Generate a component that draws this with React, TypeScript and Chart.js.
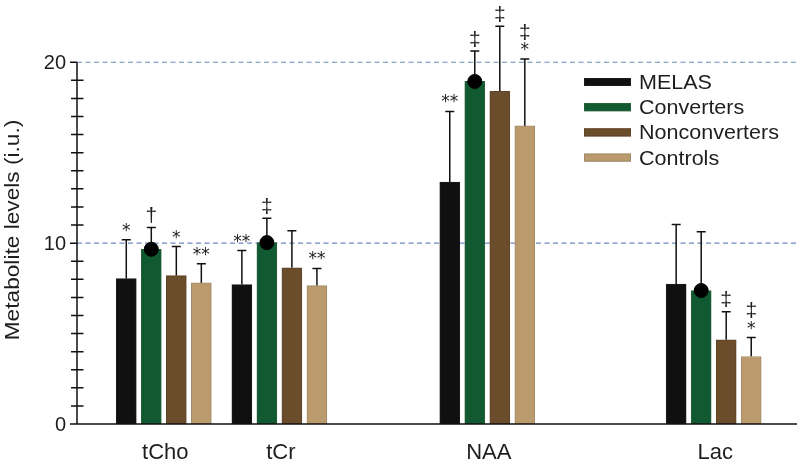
import React, { useEffect, useRef } from 'react';
import { Chart, registerables } from 'chart.js';

Chart.register(...registerables);

// ---------- data ----------
const categories = ['tCho', 'tCr', 'NAA', 'Lac'];
// positions of the category centres on the linear x axis (unit = one bar slot)
const categoryPositions = [3.47, 8.09, 16.4, 25.45];
const seriesNames = ['MELAS', 'Converters', 'Nonconverters', 'Controls'];

const melasValues = [8.04, 7.71, 13.37, 7.74];
const convertersValues = [9.66, 10.03, 18.94, 7.38];
const nonconvertersValues = [8.2, 8.64, 18.39, 4.66];
const controlsValues = [7.8, 7.65, 16.48, 3.73];

const melasSD = [2.14, 1.88, 3.91, 3.29];
const convertersSD = [1.21, 1.35, 1.68, 3.25];
const nonconvertersSD = [1.61, 2.04, 3.6, 1.55];
const controlsSD = [1.06, 0.95, 3.7, 1.05];

// significance marks, top line first
const melasMarks = [['*'], ['**'], ['**'], []];
const convertersMarks = [['†'], ['‡'], ['‡'], []];
const nonconvertersMarks = [['*'], [], ['‡'], ['‡']];
const controlsMarks = [['**'], ['**'], ['‡', '*'], ['‡', '*']];

const yMajorTicks = [0, 10, 20];
const referenceLines = [10, 20];
const yAxisTitle = 'Metabolite levels (i.u.)';

// ---------- styles ----------
const seriesColors = ['#101010', '#115a31', '#6c4d2b', '#bb9b6e'];
const seriesBorders = ['#1c1c1c', '#245f3a', '#5e4428', '#a08b6c'];
const FONT = '"Liberation Sans", Arial, Helvetica, sans-serif';
const TEXT = '#1e1e1e';

const allValues = [melasValues, convertersValues, nonconvertersValues, controlsValues];
const allSD = [melasSD, convertersSD, nonconvertersSD, controlsSD];
const allMarks = [melasMarks, convertersMarks, nonconvertersMarks, controlsMarks];

function drawText(
  ctx: CanvasRenderingContext2D,
  text: string,
  x: number,
  y: number,
  size: number,
  align: CanvasTextAlign,
  sx = 1,
  rotate = 0,
  color = TEXT,
  family = FONT
) {
  ctx.save();
  ctx.font = `${size}px ${family}`;
  ctx.fillStyle = color;
  ctx.textAlign = align;
  ctx.textBaseline = 'alphabetic';
  const m = ctx.measureText(text);
  const off = (m.actualBoundingBoxAscent - m.actualBoundingBoxDescent) / 2;
  ctx.translate(x, y);
  if (rotate) ctx.rotate(rotate);
  ctx.scale(sx, 1);
  ctx.fillText(text, 0, off);
  ctx.restore();
}

const overlayPlugin = {
  id: 'overlay',
  beforeDatasetsDraw(chart: any) {
    const { ctx, scales } = chart;
    const xs = scales.x;
    const ys = scales.y;
    // dashed reference lines
    ctx.save();
    ctx.strokeStyle = '#6f8bbf';
    ctx.lineWidth = 1.2;
    ctx.setLineDash([5, 3.5]);
    for (const v of referenceLines) {
      const py = ys.getPixelForValue(v);
      ctx.beginPath();
      ctx.moveTo(xs.left, py);
      ctx.lineTo(chart.width, py);
      ctx.stroke();
    }
    ctx.restore();
    // error bars
    ctx.save();
    ctx.strokeStyle = '#111';
    ctx.lineWidth = 1.5;
    for (let s = 0; s < seriesNames.length; s++) {
      const meta = chart.getDatasetMeta(s);
      meta.data.forEach((el: any, j: number) => {
        const top = ys.getPixelForValue(allValues[s][j] + allSD[s][j]);
        ctx.beginPath();
        ctx.moveTo(el.x, el.y);
        ctx.lineTo(el.x, top);
        ctx.moveTo(el.x - 4.5, top);
        ctx.lineTo(el.x + 4.5, top);
        ctx.stroke();
      });
    }
    ctx.restore();
  },
  afterDatasetsDraw(chart: any) {
    const { ctx, scales } = chart;
    const xs = scales.x;
    const ys = scales.y;
    // significance marks
    for (let s = 0; s < seriesNames.length; s++) {
      const meta = chart.getDatasetMeta(s);
      meta.data.forEach((el: any, j: number) => {
        const top = ys.getPixelForValue(allValues[s][j] + allSD[s][j]);
        const lines = allMarks[s][j];
        for (let k = 0; k < lines.length; k++) {
          const fromBottom = lines.length - 1 - k;
          const cy = top - 12.5 - fromBottom * 15;
          const t = lines[k];
          if (t.includes('*')) {
            drawText(ctx, t, el.x, cy, 17, 'center', 1, 0, TEXT, '"DejaVu Sans", sans-serif');
          } else {
            drawText(ctx, t, el.x, cy, 21, 'center');
          }
        }
      });
    }
    // axes
    const x0 = xs.left;
    const y0 = ys.getPixelForValue(0);
    const yTop = ys.getPixelForValue(20);
    ctx.save();
    ctx.strokeStyle = '#111';
    ctx.lineWidth = 1.5;
    ctx.beginPath();
    ctx.moveTo(x0, y0);
    ctx.lineTo(x0, yTop);
    ctx.moveTo(x0 - 7, y0);
    ctx.lineTo(chart.width, y0);
    for (let v = 0; v <= 20; v++) {
      const py = ys.getPixelForValue(v);
      if (yMajorTicks.includes(v)) {
        ctx.moveTo(x0 - 7, py);
        ctx.lineTo(x0, py);
      } else {
        ctx.moveTo(x0 - 6, py);
        ctx.lineTo(x0 + 6.5, py);
      }
    }
    ctx.stroke();
    ctx.restore();
    for (const v of yMajorTicks) {
      drawText(ctx, String(v), x0 - 11, ys.getPixelForValue(v), 20, 'right');
    }
    // category labels
    categories.forEach((c, i) => {
      drawText(ctx, c, xs.getPixelForValue(categoryPositions[i]) + 1.5, 451, 22, 'center');
    });
    // y title
    drawText(ctx, yAxisTitle, 13.5, 230, 21, 'center', 1.08, -Math.PI / 2);
    // legend
    ctx.save();
    seriesNames.forEach((name, i) => {
      const cy = 82 + i * 25.2;
      ctx.fillStyle = seriesColors[i];
      ctx.fillRect(584, cy - 4, 47, 8);
      ctx.strokeStyle = seriesBorders[i];
      ctx.lineWidth = 1;
      ctx.strokeRect(584.5, cy - 3.5, 46, 7);
      drawText(ctx, name, 639, cy, 20.5, 'left', 1.05);
    });
    ctx.restore();
  },
};

export default function App() {
  const canvasRef = useRef<HTMLCanvasElement | null>(null);

  useEffect(() => {
    document.body.style.margin = '0';
    const canvas = canvasRef.current;
    if (!canvas) return;
    const barDatasets = seriesNames.map((name, s) => ({
      type: 'bar' as const,
      label: name,
      data: categoryPositions.map((p, j) => ({ x: p + (s - 1.5), y: allValues[s][j] })),
      backgroundColor: seriesColors[s],
      borderColor: seriesBorders[s],
      borderWidth: 1,
      barThickness: 20,
      grouped: false,
      order: 2,
    }));
    const dotDataset = {
      type: 'scatter' as const,
      label: 'Converters mean',
      data: categoryPositions.map((p, j) => ({ x: p - 0.5, y: convertersValues[j] })),
      backgroundColor: '#000',
      borderColor: '#000',
      pointRadius: 7,
      pointHoverRadius: 7,
      order: 0,
    };
    const chart = new Chart(canvas, {
      type: 'bar',
      data: { datasets: [...barDatasets, dotDataset] as any },
      options: {
        responsive: false,
        animation: false,
        devicePixelRatio: 1,
        layout: { padding: { left: 77, right: 0, top: 4, bottom: 38 } },
        plugins: { legend: { display: false }, tooltip: { enabled: false } },
        scales: {
          x: { type: 'linear', min: 0, max: 28.46, offset: false, display: false, grid: { offset: false } },
          y: { type: 'linear', min: 0, max: 23, display: false },
        },
      },
      plugins: [overlayPlugin],
    });
    return () => chart.destroy();
  }, []);

  return (
    <div style={{ width: 797, height: 462, background: '#fff' }}>
      <canvas ref={canvasRef} width={797} height={462} />
    </div>
  );
}
